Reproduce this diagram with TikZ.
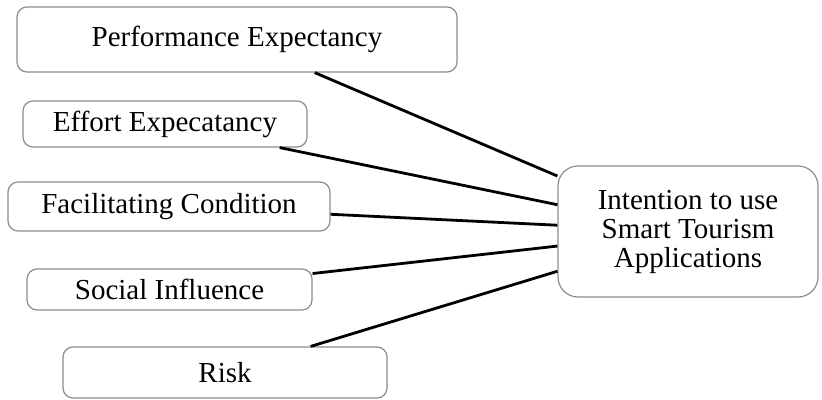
\documentclass[tikz,border=0pt]{standalone}
\usepackage{fontspec}
\setmainfont{Liberation Serif}
\tikzset{
  factor/.style={draw=gray!90, line width=0.6pt, rounded corners=5pt, inner sep=0pt,
    font=\fontsize{14.5}{14.5}\selectfont, align=center},
  link/.style={line width=1.4pt},
}
\begin{document}
\begin{tikzpicture}[x=0.5pt,y=-0.5pt]
\useasboundingbox (0,0) rectangle (822,400);
% predictors
\node[factor, minimum width=220pt, minimum height=32.5pt] (perf) at (237,39.5) {Performance Expectancy};
\node[factor, minimum width=142pt, minimum height=23pt] (effort) at (165,124) {Effort Expecatancy};
\node[factor, minimum width=161pt, minimum height=24.5pt] (facil) at (169,206.5) {Facilitating Condition};
\node[factor, minimum width=142.5pt, minimum height=20.5pt] (social) at (169.5,289.5) {Social Influence};
\node[factor, minimum width=162pt, minimum height=25.5pt] (risk) at (225,372.5) {Risk};
% outcome
\node[factor, rounded corners=10pt, minimum width=130pt, minimum height=65.5pt] (intent) at (688,231.5) {Intention to use\\Smart Tourism\\Applications};
\draw[link] (perf) -- (intent);
\draw[link] (effort) -- (intent);
\draw[link] (facil) -- (intent);
\draw[link] (social) -- (intent);
\draw[link] (risk) -- (intent);

\end{tikzpicture}
\end{document}
